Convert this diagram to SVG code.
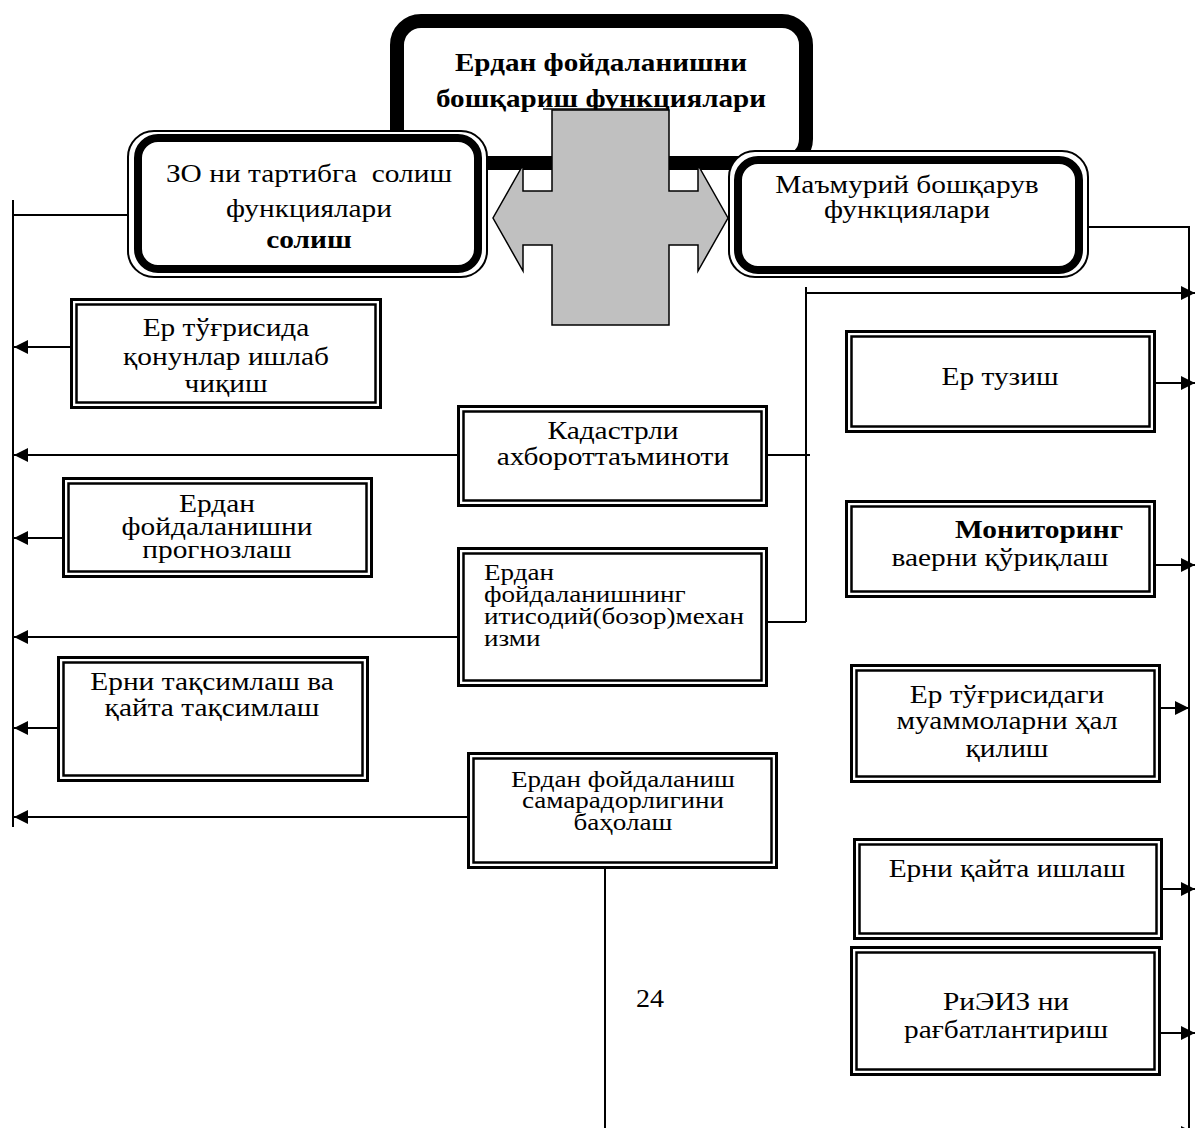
<svg xmlns="http://www.w3.org/2000/svg" width="1195" height="1128" viewBox="0 0 1195 1128">
<defs>
<marker id="ah" viewBox="0 0 14 14" refX="14" refY="7" markerWidth="14" markerHeight="14" markerUnits="userSpaceOnUse" orient="auto"><path d="M0,0 L14,7 L0,14 z" fill="#000"/></marker>
</defs>
<style>
.t { font-family: "Liberation Serif", "Times New Roman", serif; font-size: 26px; fill: #000; }
.s { font-size: 24px; }
.c { text-anchor: middle; }
.b { font-weight: bold; }
.o { fill: #fff; stroke: #000; stroke-width: 3; }
.i { fill: none; stroke: #000; stroke-width: 2.5; }
.ro { fill: #fff; stroke: #000; stroke-width: 2; }
.ri { fill: none; stroke: #000; stroke-width: 8; }
.conn { stroke: #000; stroke-width: 2; fill: none; }
.arr { stroke: #000; stroke-width: 2; fill: none; marker-end: url(#ah); }
</style>
<rect width="1195" height="1128" fill="#fff"/>

<g id="connectors">
<path class="conn" d="M13,200 V827"/>
<path class="conn" d="M128,215 H13"/>
<path class="arr" d="M70,347 H14"/>
<path class="arr" d="M457,455 H14"/>
<path class="arr" d="M62,538 H14"/>
<path class="arr" d="M457,637 H14"/>
<path class="arr" d="M57,728 H14"/>
<path class="arr" d="M467,817 H14"/>
<path class="conn" d="M1070,227 H1189 V1128"/>
<path class="conn" d="M806,287 V622"/>
<path class="arr" d="M806,293 H1195"/>
<path class="conn" d="M768,455 H810"/>
<path class="conn" d="M758,622 H806"/>
<path class="conn" d="M605,865 V1128"/>
<path class="arr" d="M1156,383 H1195"/>
<path class="arr" d="M1156,565 H1195"/>
<path class="arr" d="M1161,708 H1189"/>
<path class="arr" d="M1153,889 H1195"/>
<path class="arr" d="M1153,1033 H1195"/>
<path class="arr" d="M1170,1133 H1195"/>
</g>

<g id="top">
<rect x="397" y="21" width="409" height="142" rx="24" fill="#fff" stroke="#000" stroke-width="14"/>
<text class="t c b" x="601" y="71" transform="translate(601 0) scale(1.12 1) translate(-601 0)">Ердан фойдаланишни</text>
<text class="t c b" x="601" y="107" transform="translate(601 0) scale(1.12 1) translate(-601 0)">бошқариш функциялари</text>
<line x1="543" y1="109" x2="669" y2="109" stroke="#000" stroke-width="1.5"/>
</g>

<g id="left-main">
<rect class="ro" x="128" y="131" width="359" height="146" rx="26"/>
<rect class="ri" x="138" y="138" width="340" height="131" rx="20"/>
<text class="t c" x="309" y="182" xml:space="preserve" transform="translate(309 0) scale(1.13 1) translate(-309 0)">ЗО ни тартибга  солиш</text>
<text class="t c" x="309" y="217" transform="translate(309 0) scale(1.13 1) translate(-309 0)">функциялари</text>
<text class="t c b" x="309" y="248" transform="translate(309 0) scale(1.13 1) translate(-309 0)">солиш</text>
</g>

<g id="right-main">
<rect class="ro" x="729" y="151" width="359" height="126" rx="26"/>
<rect class="ri" x="738" y="160" width="341" height="110" rx="20"/>
<text class="t c" x="907" y="193" transform="translate(907 0) scale(1.13 1) translate(-907 0)">Маъмурий бошқарув</text>
<text class="t c" x="907" y="218" transform="translate(907 0) scale(1.13 1) translate(-907 0)">функциялари</text>
</g>

<g id="cross">
<polygon points="552,110 669,110 669,191 698,191 698,165 728,218 698,271 698,245 669,245 669,325 552,325 552,245 523,245 523,271 493,218 523,165 523,191 552,191" fill="#c0c0c0" stroke="#000" stroke-width="1.5"/>
</g>

<g id="b1">
<rect class="o" x="71.5" y="299.5" width="309" height="108"/>
<rect class="i" x="76.5" y="304.5" width="299" height="98"/>
<text class="t c" x="226" y="336" transform="translate(226 0) scale(1.13 1) translate(-226 0)">Ер тўғрисида</text>
<text class="t c" x="226" y="365" transform="translate(226 0) scale(1.13 1) translate(-226 0)">қонунлар ишлаб</text>
<text class="t c" x="226" y="392" transform="translate(226 0) scale(1.13 1) translate(-226 0)">чиқиш</text>
</g>

<g id="b2">
<rect class="o" x="458.5" y="406.5" width="308" height="99"/>
<rect class="i" x="463.5" y="411.5" width="298" height="89"/>
<text class="t c" x="613" y="439" transform="translate(613 0) scale(1.13 1) translate(-613 0)">Кадастрли</text>
<text class="t c" x="613" y="465" transform="translate(613 0) scale(1.13 1) translate(-613 0)">ахбороттаъминоти</text>
</g>

<g id="b3">
<rect class="o" x="63.5" y="478.5" width="308" height="98"/>
<rect class="i" x="68.5" y="483.5" width="298" height="88"/>
<text class="t c" x="217" y="512" transform="translate(217 0) scale(1.13 1) translate(-217 0)">Ердан</text>
<text class="t c" x="217" y="535" transform="translate(217 0) scale(1.13 1) translate(-217 0)">фойдаланишни</text>
<text class="t c" x="217" y="558" transform="translate(217 0) scale(1.13 1) translate(-217 0)">прогнозлаш</text>
</g>

<g id="b4">
<rect class="o" x="458.5" y="548.5" width="308" height="137"/>
<rect class="i" x="463.5" y="553.5" width="298" height="127"/>
<text class="t s" x="484" y="580" transform="translate(484 0) scale(1.13 1) translate(-484 0)">Ердан</text>
<text class="t s" x="484" y="602" transform="translate(484 0) scale(1.13 1) translate(-484 0)">фойдаланишнинг</text>
<text class="t s" x="484" y="624" transform="translate(484 0) scale(1.13 1) translate(-484 0)">итисодий(бозор)механ</text>
<text class="t s" x="484" y="646" transform="translate(484 0) scale(1.13 1) translate(-484 0)">изми</text>
</g>

<g id="b5">
<rect class="o" x="58.5" y="657.5" width="309" height="123"/>
<rect class="i" x="63.5" y="662.5" width="299" height="113"/>
<text class="t c" x="212" y="690" transform="translate(212 0) scale(1.13 1) translate(-212 0)">Ерни тақсимлаш ва</text>
<text class="t c" x="212" y="716" transform="translate(212 0) scale(1.13 1) translate(-212 0)">қайта тақсимлаш</text>
</g>

<g id="b6">
<rect class="o" x="468.5" y="753.5" width="308" height="114"/>
<rect class="i" x="473.5" y="758.5" width="298" height="104"/>
<text class="t s c" x="623" y="787" transform="translate(623 0) scale(1.13 1) translate(-623 0)">Ердан фойдаланиш</text>
<text class="t s c" x="623" y="808" transform="translate(623 0) scale(1.13 1) translate(-623 0)">самарадорлигини</text>
<text class="t s c" x="623" y="830" transform="translate(623 0) scale(1.13 1) translate(-623 0)">баҳолаш</text>
</g>

<g id="r1">
<rect class="o" x="846.5" y="331.5" width="308" height="100"/>
<rect class="i" x="851.5" y="336.5" width="298" height="90"/>
<text class="t c" x="1000" y="385" transform="translate(1000 0) scale(1.13 1) translate(-1000 0)">Ер тузиш</text>
</g>

<g id="r2">
<rect class="o" x="846.5" y="501.5" width="308" height="95"/>
<rect class="i" x="851.5" y="506.5" width="298" height="85"/>
<text class="t c b" x="1039" y="538" transform="translate(1039 0) scale(1.13 1) translate(-1039 0)">Мониторинг</text>
<text class="t c" x="1000" y="566" transform="translate(1000 0) scale(1.13 1) translate(-1000 0)">ваерни қўриқлаш</text>
</g>

<g id="r3">
<rect class="o" x="851.5" y="665.5" width="308" height="116"/>
<rect class="i" x="856.5" y="670.5" width="298" height="106"/>
<text class="t c" x="1007" y="703" transform="translate(1007 0) scale(1.13 1) translate(-1007 0)">Ер тўғрисидаги</text>
<text class="t c" x="1007" y="729" transform="translate(1007 0) scale(1.13 1) translate(-1007 0)">муаммоларни ҳал</text>
<text class="t c" x="1007" y="757" transform="translate(1007 0) scale(1.13 1) translate(-1007 0)">қилиш</text>
</g>

<g id="r4">
<rect class="o" x="854.5" y="839.5" width="307" height="99"/>
<rect class="i" x="859.5" y="844.5" width="297" height="89"/>
<text class="t c" x="1007" y="877" transform="translate(1007 0) scale(1.13 1) translate(-1007 0)">Ерни қайта ишлаш</text>
</g>

<g id="r5">
<rect class="o" x="851.5" y="947.5" width="308" height="127"/>
<rect class="i" x="856.5" y="952.5" width="298" height="117"/>
<text class="t c" x="1006" y="1010" transform="translate(1006 0) scale(1.13 1) translate(-1006 0)">РиЭИЗ ни</text>
<text class="t c" x="1006" y="1038" transform="translate(1006 0) scale(1.13 1) translate(-1006 0)">рағбатлантириш</text>
</g>

<g id="page-number">
<text class="t c" x="650" y="1007" transform="translate(650 0) scale(1.08 1) translate(-650 0)">24</text>
</g>
</svg>
